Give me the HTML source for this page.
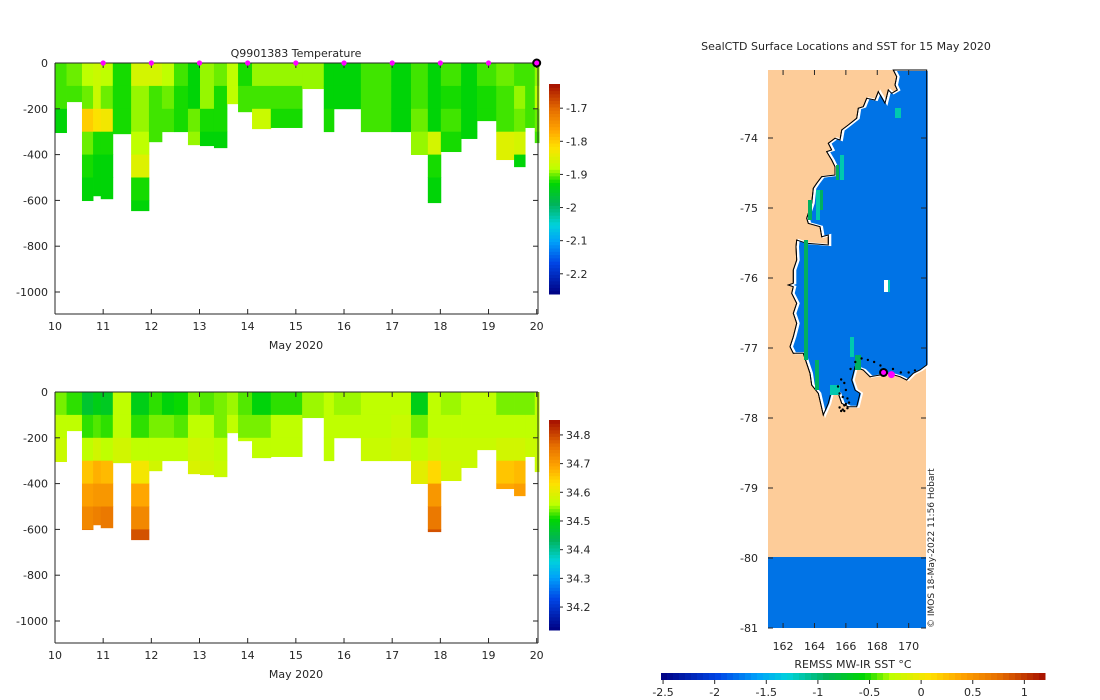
<!DOCTYPE html>
<html><head><meta charset="utf-8">
<style>
html,body{margin:0;padding:0;background:#fff;}
svg{display:block;font-family:"DejaVu Sans","Liberation Sans",sans-serif;}
text{fill:#262626;}
</style></head>
<body>
<svg id="fig" width="1100" height="700" viewBox="0 0 1100 700" xmlns="http://www.w3.org/2000/svg">
<rect width="1100" height="700" fill="#fff"/>
<g id="top"></g>
<g id="bot"></g>
<g id="map"></g>
</svg>
<script>
// ---- data ----
const profileStart = [10.01,10.24,10.56,10.79,10.95,11.20,11.58,11.95,12.22,12.47,12.76,13.01,13.30,13.57,13.80,14.09,14.48,15.13,15.58,15.79,16.35,16.98,17.39,17.74,18.01,18.43,18.76,19.16,19.53,19.76,19.96];
const lastProfileEnd = 20.05;
const profileDepth = [304,169,601,580,593,309,645,344,300,300,357,361,370,178,213,287,282,112,300,200,300,300,400,610,387,330,252,422,453,282,348];
const tempBins = [
[-1.91,-1.91,-1.93,-1.93],[-1.9,-1.91],[-1.88,-1.9,-1.8,-1.9,-1.92,-1.93,-1.93],[-1.87,-1.87,-1.82,-1.92,-1.93,-1.93],
[-1.88,-1.9,-1.83,-1.92,-1.93,-1.93],[-1.92,-1.92,-1.92,-1.92],[-1.86,-1.89,-1.89,-1.88,-1.85,-1.92,-1.93],[-1.86,-1.91,-1.91,-1.91],
[-1.88,-1.9,-1.91],[-1.91,-1.92,-1.92],[-1.93,-1.93,-1.9,-1.89],[-1.89,-1.89,-1.92,-1.93],[-1.9,-1.92,-1.92,-1.93],[-1.88,-1.88],
[-1.92,-1.91,-1.91],[-1.89,-1.91,-1.87],[-1.89,-1.91,-1.92],[-1.89,-1.89],[-1.93,-1.93,-1.92],[-1.93,-1.93],[-1.91,-1.91,-1.91],
[-1.93,-1.93,-1.93],[-1.91,-1.91,-1.9,-1.89],[-1.93,-1.93,-1.93,-1.86,-1.92,-1.93,-1.93],[-1.91,-1.92,-1.91,-1.92],[-1.93,-1.93,-1.93,-1.93],
[-1.91,-1.92,-1.92],[-1.9,-1.91,-1.91,-1.85,-1.85],[-1.91,-1.89,-1.9,-1.86,-1.93],[-1.91,-1.91,-1.91],[-1.89,-1.88,-1.9,-1.91]];
const salBins = [
[34.54,34.56,34.57,34.58],[34.52,34.56],[34.47,34.52,34.56,34.66,34.7,34.73,34.76],[34.49,34.53,34.58,34.68,34.71,34.74],
[34.48,34.52,34.56,34.67,34.71,34.75],[34.56,34.56,34.58,34.58],[34.49,34.52,34.56,34.62,34.69,34.73,34.79],[34.52,34.54,34.56,34.58],
[34.5,34.54,34.56],[34.51,34.53,34.56],[34.54,34.56,34.58,34.59],[34.53,34.56,34.57,34.58],[34.54,34.54,34.56,34.57],[34.55,34.56],
[34.53,34.54,34.56],[34.5,34.54,34.56],[34.52,34.56,34.56],[34.55,34.55],[34.56,34.56,34.56],[34.55,34.56],[34.56,34.56,34.57],
[34.56,34.57,34.58],[34.49,34.54,34.56,34.6],[34.56,34.56,34.58,34.64,34.71,34.75,34.79],[34.55,34.56,34.57,34.58],[34.56,34.56,34.57,34.57],
[34.56,34.56,34.57],[34.54,34.56,34.58,34.66,34.69],[34.54,34.56,34.58,34.67,34.7],[34.54,34.56,34.57],[34.56,34.56,34.57,34.57]];
const binSize = 100;
const dayTicks = [10,11,12,13,14,15,16,17,18,19,20];
const depthTicks = [0,-200,-400,-600,-800,-1000];
const markerDays = [11,12,13,14,15,16,17,18,19];
const tempTicks = [-1.7,-1.8,-1.9,-2,-2.1,-2.2];
const salTicks = [34.8,34.7,34.6,34.5,34.4,34.3,34.2];
const latTicks = [-74,-75,-76,-77,-78,-79,-80,-81];
const lonTicks = [162,164,166,168,170];
const sstTicks = [-2.5,-2,-1.5,-1,-0.5,0,0.5,1];

const NS='http://www.w3.org/2000/svg';
function el(tag,attrs,parent,txt){const e=document.createElementNS(NS,tag);for(const k in attrs)e.setAttribute(k,attrs[k]);if(txt!==undefined)e.textContent=txt;parent.appendChild(e);return e;}

const cstops=[[0,[0,0,130]],[0.15,[0,70,230]],[0.25,[0,160,250]],[0.33,[0,210,220]],[0.43,[0,180,90]],[0.53,[0,215,0]],[0.6,[190,255,0]],[0.7,[255,225,0]],[0.78,[255,165,0]],[0.88,[230,110,0]],[1,[165,15,0]]];
function cmap(f){f=Math.max(0,Math.min(1,f));for(let i=1;i<cstops.length;i++){if(f<=cstops[i][0]){const a=cstops[i-1],b=cstops[i];const t=(f-a[0])/(b[0]-a[0]);const c=a[1].map((v,j)=>Math.round(v+(b[1][j]-v)*t));return `rgb(${c})`;}}return 'rgb(165,15,0)';}

function panel(g,y0,bins,vmin,vmax,cbTicks,cbT,cbB,title,markers){
  const xL=55,xR=538,yTop=y0,pxPerM=0.229,yBot=y0+251;
  const X=d=>xL+(d-10)*48.17;
  const Y=dep=>yTop-dep*pxPerM;
  for(let i=0;i<profileStart.length;i++){
    const x0=X(profileStart[i]),x1=X(i+1<profileStart.length?profileStart[i+1]:lastProfileEnd);
    const vals=bins[i];
    for(let b=0;b<vals.length;b++){
      const d0=b*binSize,d1=Math.min((b+1)*binSize,profileDepth[i]);
      if(d1<=d0)continue;
      const r=el('rect',{x:x0,y:Y(-d0),width:x1-x0+0.4,height:(d1-d0)*pxPerM+0.4,fill:cmap((vals[b]-vmin)/(vmax-vmin))},g);
      
      
    }
  }
  el('line',{x1:xL,y1:yTop,x2:xL,y2:yBot,stroke:'#262626'},g);
  el('line',{x1:xL,y1:yBot,x2:xR,y2:yBot,stroke:'#262626'},g);
  el('line',{x1:xL,y1:yTop,x2:xR,y2:yTop,stroke:'#262626'},g);
  el('line',{x1:xR,y1:yTop,x2:xR,y2:yBot,stroke:'#262626'},g);
  dayTicks.forEach(d=>{const x=X(d);el('line',{x1:x,y1:yBot,x2:x,y2:yBot-5,stroke:'#262626'},g);el('line',{x1:x,y1:yTop,x2:x,y2:yTop+5,stroke:'#262626'},g);
    el('text',{x:x,y:yBot+16,'text-anchor':'middle','font-size':11,},g,d);});
  el('text',{x:296,y:yBot+35,'text-anchor':'middle','font-size':11,},g,'May 2020');
  depthTicks.forEach(d=>{const y=Y(d);el('line',{x1:xL,y1:y,x2:xL+5,y2:y,stroke:'#262626'},g);el('line',{x1:xR,y1:y,x2:xR-5,y2:y,stroke:'#262626'},g);
    el('text',{x:xL-7,y:y+4,'text-anchor':'end','font-size':11,},g,d);});
  const cbX=549;
  const n=64;for(let k=0;k<n;k++){el('rect',{x:cbX,y:cbB-(k+1)*(cbB-cbT)/n,width:11,height:(cbB-cbT)/n+0.5,fill:cmap((k+0.5)/n)},g);}
  const CY=v=>cbB-(v-vmin)/(vmax-vmin)*(cbB-cbT);
  cbTicks.forEach(v=>{const y=CY(v);el('line',{x1:cbX+11,y1:y,x2:cbX+14,y2:y,stroke:'#262626'},g);
    el('text',{x:cbX+17,y:y+4,'font-size':11,},g,v);});
  if(title){el('text',{x:296,y:yTop-6,'text-anchor':'middle','font-size':11,},g,title);}
  if(markers){markerDays.forEach(d=>{const c=el('circle',{cx:X(d),cy:yTop,r:2.6,fill:'#ff00ff'},g);});
    el('circle',{cx:X(20),cy:yTop,r:3.5,fill:'#ff00ff',stroke:'#000','stroke-width':2,},g);}
}
panel(document.getElementById('top'),63,tempBins,-2.261,-1.627,tempTicks,84,294,'Q9901383  Temperature',true);
panel(document.getElementById('bot'),392,salBins,34.12,34.852,salTicks,420,630,null,false);

// ---- map ----
const mg=document.getElementById('map');
const mL=768,mR=926,mT=70,mB=628;
const lonX=l=>mL+(l-161.04)*15.7;
const latY=l=>138+(-74-l)*70;
el('rect',{x:mL,y:mT,width:mR-mL,height:mB-mT,fill:'#fdcc99',},mg);
el('rect',{x:mL,y:557,width:mR-mL,height:mB-557,fill:'#0073e6',},mg);
const zp=[[400,30],[410,50],[405,75],[412,90],[395,100],[385,90],[375,130],[355,95],[345,120],[320,115],[310,140],[295,145],[290,175],[265,195],[245,210],[240,240],[225,235],[205,250],[215,270],[200,275],[215,300],[225,320],[225,345],[200,348],[185,350],[170,370],[160,385],[155,430],[140,475],[145,490],[180,500],[185,530],[205,525],[205,555],[140,550],[110,540],[108,560],[110,600],[100,630],[100,670],[85,675],[100,680],[95,700],[110,730],[100,760],[110,790],[100,830],[90,860],[100,880],[130,880],[150,940],[155,975],[175,1000],[190,1065],[205,1030],[215,990],[235,1000],[245,1030],[265,1040],[290,1040],[300,1000],[285,990],[275,960],[285,920],[310,930],[330,950],[360,945],[385,940],[420,950],[440,960],[460,940],[480,930],[500,915],[500,30]];
const pts=zp.map(p=>[(760+p[0]/3).toFixed(1),(60+p[1]/3).toFixed(1)].join(',')).join(' ');
el('polygon',{points:pts,fill:'#fff',stroke:'#000','stroke-width':1,},mg);
el('polygon',{points:pts,fill:'#0073e6',stroke:'#fff','stroke-width':2,transform:'translate(2,0)',},mg);
el('polygon',{points:pts,fill:'none',stroke:'#000','stroke-width':1},mg);
[[804,240,4,120,'#00b060'],[808,200,4,20,'#00b060'],[816,190,4,30,'#00c8b0'],[820,190,3,20,'#00b060'],[840,155,4,25,'#00c8b0'],[836,165,3,15,'#00b060'],[895,108,6,10,'#00c8b0'],[887,280,3,12,'#00c8b0'],[850,337,4,20,'#00c8b0'],[855,355,6,15,'#00b060'],[815,360,4,30,'#00b060'],[830,385,10,10,'#00c8b0']].forEach(s=>{el('rect',{x:s[0],y:s[1],width:s[2],height:s[3],fill:s[4],},mg);});
el('rect',{x:884,y:280,width:4,height:12,fill:'#fff'},mg);
const trackLon=[165.6,165.7,165.8,165.9,166.0,166.1,166.2,166.0,165.9,165.7,165.5,165.8,166.3,166.6,167.0,167.4,167.8,168.2,169.0,169.5,170.0,170.4,165.6,165.9,166.1];
const trackLat=[-77.85,-77.9,-77.88,-77.82,-77.8,-77.86,-77.78,-77.6,-77.5,-77.45,-77.55,-77.7,-77.3,-77.2,-77.15,-77.17,-77.2,-77.25,-77.3,-77.35,-77.35,-77.32,-77.65,-77.9,-77.72];
trackLon.forEach((l,i)=>{const c=el('circle',{cx:lonX(l),cy:latY(trackLat[i]),r:1.2,fill:'#000'},mg);});
el('circle',{cx:lonX(168.9),cy:latY(-77.38),r:3.5,fill:'#ff00ff',},mg);
el('circle',{cx:lonX(168.4),cy:latY(-77.35),r:3.5,fill:'#ff00ff',stroke:'#000','stroke-width':2,},mg);
latTicks.forEach(l=>{const y=latY(l);el('line',{x1:mL,y1:y,x2:mL+5,y2:y,stroke:'#262626'},mg);el('line',{x1:mR,y1:y,x2:mR-5,y2:y,stroke:'#262626'},mg);
  el('text',{x:758,y:y+4,'text-anchor':'end','font-size':11,},mg,l);});
lonTicks.forEach(l=>{const x=lonX(l);el('line',{x1:x,y1:mB,x2:x,y2:mB-5,stroke:'#262626'},mg);el('line',{x1:x,y1:mT,x2:x,y2:mT+5,stroke:'#262626'},mg);
  el('text',{x:x,y:650,'text-anchor':'middle','font-size':11,},mg,l);});
el('text',{x:846,y:50,'text-anchor':'middle','font-size':11,},mg,'SealCTD Surface Locations and SST for 15 May 2020');
el('text',{x:0,y:0,'font-size':9,transform:'translate(934,628) rotate(-90)',},mg,'© IMOS 18-May-2022 11:56 Hobart');
const sL=661,sR=1045,sMin=-2.52,sMax=1.2;
for(let k=0;k<64;k++){el('rect',{x:sL+k*(sR-sL)/64,y:673,width:(sR-sL)/64+0.5,height:7,fill:cmap((k+0.5)/64)},mg);}
sstTicks.forEach(v=>{const x=sL+(v-sMin)/(sMax-sMin)*(sR-sL);el('line',{x1:x,y1:680,x2:x,y2:684,stroke:'#262626'},mg);
  el('text',{x:x,y:696,'text-anchor':'middle','font-size':11,},mg,v);});
el('text',{x:853,y:668,'text-anchor':'middle','font-size':11,},mg,'REMSS MW-IR SST °C');
</script>
</body></html>
